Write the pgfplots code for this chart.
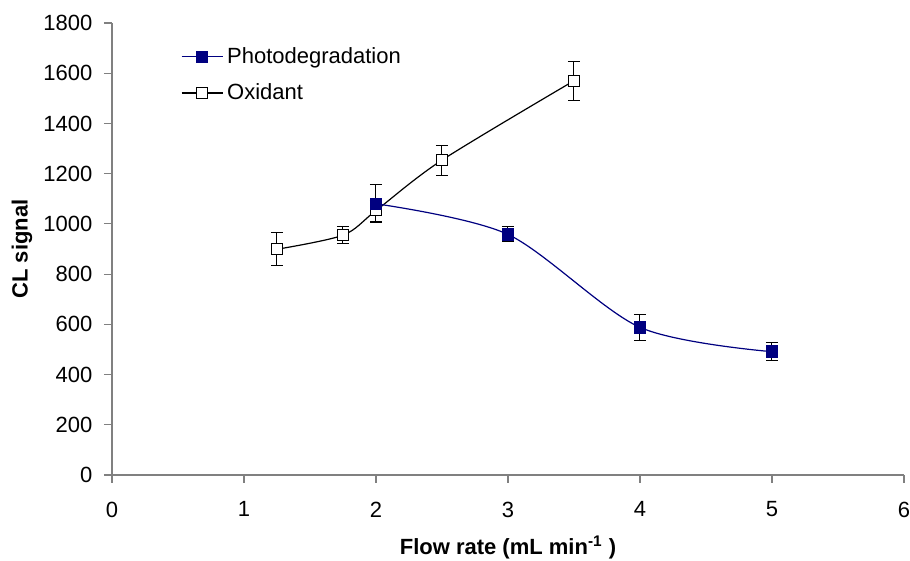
\documentclass[border=0pt]{standalone}
\usepackage{fontspec}
\setmainfont{Liberation Sans}
\usepackage{pgfplots}
\pgfplotsset{compat=1.18}
\usepackage{pgfplotstable}

\definecolor{navyline}{HTML}{000080}
\definecolor{axisgray}{HTML}{808080}

% x  y  err
\pgfplotstableread{
x     y     e
2     1080  75
3     958   30
4     588   52
5     491   35
}\photodeg

\pgfplotstableread{
x     y     e
1.25  899   65
1.75  955   35
2     1053  42
2.5   1254  60
3.5   1570  77
}\oxidant

\begin{document}
\fontsize{11}{13.2}\selectfont
\begin{tikzpicture}
\begin{axis}[
    scale only axis,
    width=396pt, height=226pt,
    xmin=0, xmax=6, ymin=0, ymax=1800,
    xtick={0,1,...,6},
    ytick={0,200,...,1800},
    axis x line*=bottom, axis y line*=left,
    axis line style={axisgray, line width=0.6pt, -},
    tick style={axisgray, line width=0.6pt},
    tick align=outside,
    major tick length=4pt,
    /pgf/number format/assume math mode=true,
    /pgf/number format/1000 sep={},
    ticklabel style={font=\fontsize{11}{13.2}\selectfont},
    xticklabel style={yshift=-5.5pt},
    yticklabel style={xshift=-2pt},
    xlabel={\textbf{Flow rate (mL min\textsuperscript{-1} )}},
    ylabel={\textbf{CL signal}},
    xlabel style={at={(axis description cs:0.5,-0.16)}, anchor=center, font=\fontsize{11}{13.2}\selectfont},
    ylabel style={at={(axis description cs:-0.1136,0.5)}, anchor=center, font=\fontsize{11}{13.2}\selectfont},
    legend style={at={(axis description cs:0.079,0.965)}, anchor=north west,
        draw=none, fill=none, font=\fontsize{11}{13.2}\selectfont,
        cells={anchor=west}, row sep=4.5pt,
        nodes={inner xsep=2pt}},
    legend image code/.code={
        \draw[mark repeat=2, mark phase=2, #1]
            plot coordinates {(0pt,0pt) (10.25pt,0pt) (20.5pt,0pt)};
    },
    reverse legend,
    clip=false,
]
\addplot[black, line width=0.6pt, smooth,
    mark=square*, mark size=2.7pt, mark options={fill=white, solid, line width=0.5pt},
    error bars/.cd, y dir=both, y explicit,
    error bar style={black, line width=0.5pt},
    error mark options={rotate=90, mark size=3pt, black, line width=0.5pt}]
    table[x=x, y=y, y error=e] {\oxidant};
\addlegendentry{Oxidant}
\addplot[navyline, line width=0.6pt, smooth,
    mark=square*, mark size=2.8pt, mark options={fill=navyline, draw=navyline, solid},
    error bars/.cd, y dir=both, y explicit,
    error bar style={black, line width=0.5pt},
    error mark options={rotate=90, mark size=3pt, black, line width=0.5pt}]
    table[x=x, y=y, y error=e] {\photodeg};
\addlegendentry{Photodegradation}
\end{axis}
\pgfresetboundingbox
\useasboundingbox (-56pt,-43pt) rectangle (399pt,237.5pt);
\end{tikzpicture}
\end{document}
